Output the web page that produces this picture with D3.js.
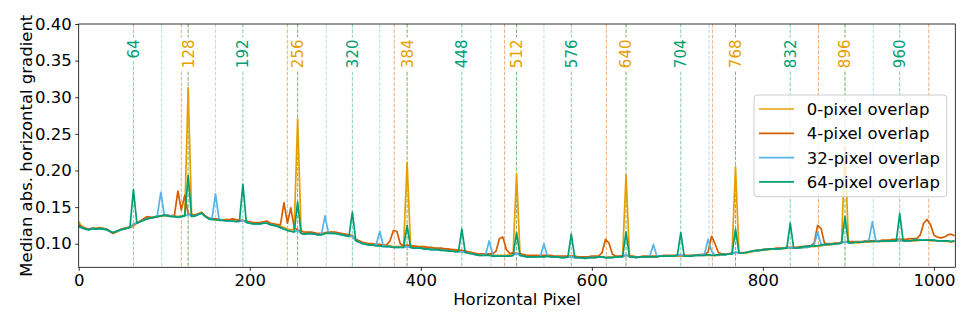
<!DOCTYPE html>
<html><head><meta charset="utf-8">
<script src="https://cdn.jsdelivr.net/npm/d3@7"></script>
<style>body{margin:0;background:#fff}svg{display:block}text{font-family:"DejaVu Sans",sans-serif}</style>
</head><body><svg id="c" width="977" height="326"></svg>
<script>
// sample positions (horizontal pixel), one value every 4 pixels
const sampleX = d3.range(0, 1025, 4);

const seriesNames = ["0-pixel overlap", "4-pixel overlap", "32-pixel overlap", "64-pixel overlap"];
const seriesColors = ["#E69F00", "#D55E00", "#56B4E9", "#009E73"];

const overlap0 = [
.130,.123,.121,.120,.121,.121,.122,.121,.120,.118,.115,.116,.119,.121,.122,.122,
.124,.128,.131,.133,.136,.136,.136,.137,.138,.138,.138,.138,.138,.137,.138,.139,
.313,.140,.139,.141,.143,.138,.135,.134,.133,.133,.132,.133,.132,.133,.132,.131,
.131,.130,.129,.128,.128,.128,.130,.130,.128,.126,.125,.124,.122,.120,.119,.120,
.270,.118,.115,.115,.115,.114,.113,.113,.114,.115,.116,.115,.114,.113,.112,.110,
.110,.105,.103,.101,.100,.099,.099,.098,.098,.097,.097,.097,.096,.096,.096,.098,
.211,.098,.096,.096,.095,.095,.094,.094,.093,.093,.093,.092,.092,.091,.091,.090,
.089,.089,.088,.087,.086,.085,.085,.085,.085,.084,.084,.084,.084,.084,.085,.088,
.195,.087,.085,.083,.083,.082,.083,.083,.082,.083,.083,.082,.082,.082,.082,.082,
.082,.082,.081,.081,.081,.081,.082,.082,.082,.082,.081,.082,.082,.082,.082,.084,
.194,.084,.082,.082,.082,.082,.082,.082,.082,.082,.083,.083,.083,.083,.083,.083,
.083,.083,.083,.083,.084,.084,.084,.084,.084,.084,.084,.084,.085,.085,.086,.088,
.205,.088,.087,.087,.088,.089,.090,.091,.091,.092,.092,.093,.093,.093,.093,.094,
.094,.094,.094,.094,.095,.095,.096,.096,.097,.097,.098,.098,.099,.099,.100,.102,
.232,.102,.101,.101,.101,.102,.102,.102,.103,.103,.103,.103,.103,.103,.104,.104,
.104,.104,.104,.104,.104,.104,.105,.105,.105,.104,.104,.104,.104,.103,.103,.102,
.103];

const overlap4 = [
.126,.123,.121,.120,.121,.121,.121,.121,.120,.117,.114,.116,.118,.120,.121,.123,
.126,.129,.131,.134,.137,.136,.136,.137,.138,.139,.139,.138,.139,.172,.146,.166,
.141,.139,.139,.141,.142,.138,.135,.134,.134,.133,.132,.133,.133,.134,.133,.132,
.132,.131,.130,.129,.129,.129,.130,.131,.128,.127,.126,.126,.156,.128,.149,.122,
.119,.117,.116,.116,.116,.115,.114,.114,.115,.116,.116,.116,.115,.114,.113,.112,
.111,.106,.104,.102,.101,.100,.100,.099,.099,.098,.098,.104,.118,.117,.100,.097,
.098,.097,.097,.096,.096,.096,.095,.095,.094,.094,.094,.093,.093,.092,.092,.091,
.091,.090,.089,.088,.087,.086,.086,.086,.086,.086,.090,.107,.109,.092,.087,.087,
.087,.086,.085,.084,.084,.084,.084,.084,.084,.084,.084,.083,.083,.083,.083,.083,
.083,.083,.082,.082,.082,.082,.083,.083,.083,.088,.106,.101,.086,.083,.083,.083,
.084,.083,.083,.082,.082,.083,.083,.083,.083,.083,.083,.084,.084,.084,.084,.084,
.084,.084,.084,.084,.084,.085,.085,.085,.089,.110,.100,.088,.086,.086,.086,.087,
.088,.088,.088,.088,.089,.090,.091,.091,.092,.093,.093,.093,.094,.094,.094,.095,
.095,.095,.095,.096,.096,.097,.097,.101,.125,.121,.101,.100,.100,.101,.101,.102,
.103,.103,.103,.103,.103,.103,.104,.104,.104,.104,.104,.105,.105,.105,.106,.106,
.106,.106,.106,.107,.107,.107,.112,.128,.133,.126,.112,.109,.108,.109,.112,.113,
.111];

const overlap32 = [
.123,.121,.120,.119,.120,.120,.120,.120,.119,.117,.116,.117,.118,.120,.121,.122,
.127,.128,.130,.132,.134,.135,.136,.139,.170,.140,.138,.138,.137,.137,.137,.138,
.140,.138,.138,.140,.141,.137,.134,.135,.168,.134,.132,.131,.131,.131,.130,.130,
.132,.129,.128,.127,.127,.127,.128,.128,.126,.125,.124,.122,.120,.118,.117,.116,
.118,.114,.113,.113,.113,.113,.112,.114,.138,.115,.114,.114,.113,.112,.111,.110,
.110,.104,.102,.100,.099,.098,.098,.099,.117,.098,.096,.096,.095,.095,.095,.095,
.096,.095,.094,.094,.094,.093,.093,.092,.092,.092,.091,.091,.090,.090,.089,.089,
.089,.088,.087,.086,.085,.084,.084,.086,.104,.085,.083,.083,.083,.083,.083,.084,
.087,.084,.083,.082,.082,.082,.082,.083,.100,.083,.082,.082,.082,.081,.081,.082,
.082,.081,.081,.081,.080,.081,.081,.081,.082,.082,.081,.081,.081,.082,.082,.082,
.085,.082,.082,.081,.082,.082,.082,.084,.099,.083,.083,.083,.083,.083,.083,.084,
.085,.083,.083,.083,.084,.084,.084,.087,.106,.090,.084,.085,.085,.085,.086,.086,
.089,.087,.087,.088,.089,.090,.090,.091,.092,.092,.093,.093,.093,.093,.094,.094,
.095,.094,.094,.094,.095,.095,.096,.099,.116,.099,.098,.099,.099,.100,.100,.101,
.103,.101,.101,.102,.102,.102,.103,.105,.130,.105,.103,.104,.104,.104,.104,.104,
.105,.104,.104,.104,.105,.105,.105,.105,.105,.105,.105,.104,.104,.104,.104,.103,
.104];

const overlap64 = [
.124,.122,.120,.119,.121,.120,.121,.120,.120,.117,.115,.117,.119,.120,.121,.123,
.174,.128,.130,.132,.134,.135,.136,.137,.138,.139,.138,.137,.137,.136,.137,.138,
.193,.137,.138,.140,.142,.137,.134,.133,.133,.132,.132,.131,.131,.131,.130,.131,
.181,.129,.128,.127,.127,.127,.128,.128,.126,.125,.124,.122,.120,.118,.117,.116,
.157,.114,.113,.114,.114,.113,.112,.112,.114,.114,.114,.114,.113,.112,.111,.110,
.143,.104,.102,.100,.099,.098,.098,.097,.097,.096,.096,.096,.095,.095,.095,.095,
.125,.095,.094,.094,.094,.093,.093,.092,.092,.092,.091,.091,.090,.090,.089,.089,
.120,.088,.087,.086,.085,.084,.084,.084,.084,.083,.083,.083,.083,.083,.083,.084,
.115,.084,.083,.082,.082,.082,.082,.082,.082,.083,.082,.082,.082,.081,.081,.082,
.113,.081,.081,.081,.080,.081,.081,.081,.082,.082,.081,.081,.081,.082,.082,.082,
.116,.082,.082,.081,.082,.082,.082,.082,.082,.082,.083,.083,.083,.083,.083,.084,
.115,.083,.083,.083,.084,.084,.084,.084,.085,.084,.084,.085,.085,.085,.086,.086,
.120,.087,.087,.088,.089,.090,.091,.091,.092,.092,.093,.093,.093,.093,.094,.094,
.128,.094,.094,.095,.096,.096,.097,.097,.097,.098,.099,.099,.099,.100,.100,.101,
.137,.101,.101,.102,.102,.102,.103,.103,.103,.103,.103,.104,.104,.104,.104,.104,
.141,.104,.104,.104,.105,.105,.105,.105,.105,.105,.105,.104,.104,.104,.104,.103,
.104];

// tile boundary positions
const bounds64 = [64,128,192,256,320,384,448,512,576,640,704,768,832,896,960];
const bounds0 = [128,256,384,512,640,768,896];
const bounds4 = [120,244,369,498,617,741,865,994];
const bounds32 = [97,160,289.5,352,482,544,737,929];

const xTicks = [0,200,400,600,800,1000];
const yTicks = [0.10,0.15,0.20,0.25,0.30,0.35,0.40];

const L = 78.7, R = 955.3, T = 24, B = 267.3;
const x = d3.scaleLinear().domain([0, 1025]).range([L, R]);
const y = d3.scaleLinear().domain([0.0678, 0.40]).range([B, T]);
const svg = d3.select("#c");
const FS = 16.5;

function vlines(arr, color, op) {
  svg.append("g").selectAll("line").data(arr).join("line")
    .attr("x1", d => x(d)).attr("x2", d => x(d)).attr("y1", T).attr("y2", B)
    .attr("stroke", color).attr("stroke-opacity", op).attr("stroke-width", 1)
    .attr("stroke-dasharray", "3.7,1.6");
}
vlines(bounds32, "#56B4E9", 0.45);
vlines(bounds4, "#D55E00", 0.5);
vlines(bounds0, "#E69F00", 0.45);
vlines(bounds64, "#009E73", 0.5);

const allSeries = [overlap0, overlap4, overlap32, overlap64];
const line = d3.line().x((d, i) => x(sampleX[i])).y(d => y(d));
allSeries.forEach((vals, k) => {
  svg.append("path").attr("d", line(vals)).attr("fill", "none")
    .attr("stroke", seriesColors[k]).attr("stroke-width", 1.7)
    .attr("stroke-linejoin", "round");
});

// boundary labels
const LFS = 15;
bounds64.forEach(v => {
  const col = (v / 64) % 2 === 1 ? "#009E73" : "#E69F00";
  const g = svg.append("g").attr("transform", `translate(${x(v) + 0.36 * LFS},39.5) rotate(-90)`);
  const t = g.append("text").attr("text-anchor", "end").attr("font-size", LFS).attr("fill", col).text(v);
  const bb = t.node().getBBox();
  g.insert("rect", "text").attr("x", bb.x - 2).attr("y", -0.73 * LFS - 2.5)
    .attr("width", bb.width + 4).attr("height", 0.73 * LFS + 5).attr("fill", "#fff");
});

// axes
const xa = svg.append("g").attr("transform", `translate(0,${B})`)
  .call(d3.axisBottom(x).tickValues(xTicks).tickSize(3.5).tickPadding(3.5).tickFormat(d3.format("d")));
const ya = svg.append("g").attr("transform", `translate(${L},0)`)
  .call(d3.axisLeft(y).tickValues(yTicks).tickSize(3.5).tickPadding(3.5).tickFormat(d3.format(".2f")));
[xa, ya].forEach(a => {
  a.select(".domain").remove();
  a.selectAll("text").attr("font-size", FS).attr("font-family", "DejaVu Sans").attr("fill", "#000");
  a.selectAll("line").attr("stroke", "#000").attr("stroke-width", 0.8);
});
svg.append("rect").attr("x", L).attr("y", T).attr("width", R - L).attr("height", B - T)
  .attr("fill", "none").attr("stroke", "#000").attr("stroke-width", 0.8);

svg.append("text").attr("x", (L + R) / 2).attr("y", 305).attr("text-anchor", "middle")
  .attr("font-size", FS).text("Horizontal Pixel");
svg.append("text").attr("transform", `translate(32,${(T + B) / 2}) rotate(-90)`).attr("text-anchor", "middle")
  .attr("font-size", FS).text("Median abs. horizontal gradient");

// legend
const lg = svg.append("g");
lg.append("rect").attr("x", 754).attr("y", 95).attr("width", 192.7).attr("height", 101.7).attr("rx", 3)
  .attr("fill", "#fff").attr("fill-opacity", 0.8).attr("stroke", "#ccc").attr("stroke-width", 1);
seriesNames.forEach((n, i) => {
  const yy = 109 + i * 24.3;
  lg.append("line").attr("x1", 759).attr("x2", 794).attr("y1", yy).attr("y2", yy)
    .attr("stroke", seriesColors[i]).attr("stroke-width", 1.7);
  lg.append("text").attr("x", 806.7).attr("y", yy + 6).attr("font-size", FS).text(n);
});
</script></body></html>
